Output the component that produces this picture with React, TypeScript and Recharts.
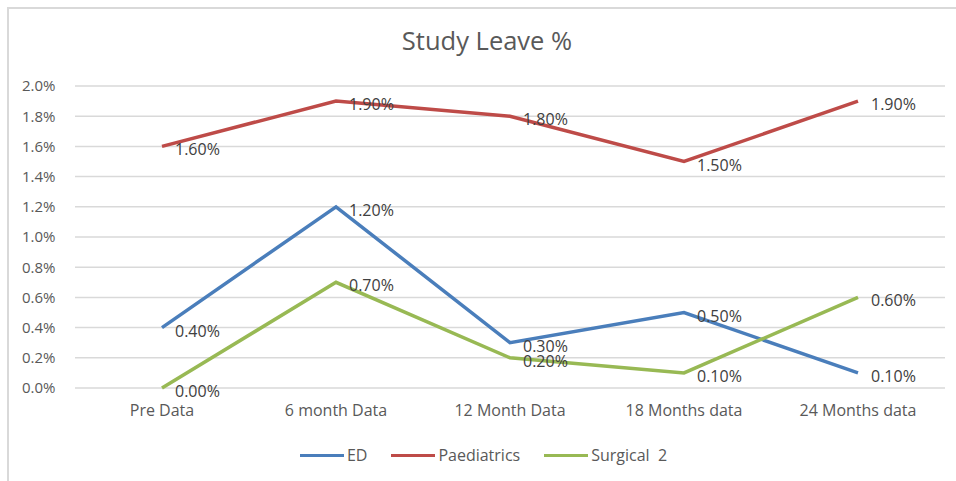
import React from 'react';
import { LineChart, Line, XAxis, YAxis, CartesianGrid, Legend, LabelList } from 'recharts';

const periods = ['Pre Data', '6 month Data', '12 Month Data', '18 Months data', '24 Months data'];
const ed = [0.4, 1.2, 0.3, 0.5, 0.1];
const paediatrics = [1.6, 1.9, 1.8, 1.5, 1.9];
const surgical2 = [0.0, 0.7, 0.2, 0.1, 0.6];
const yTicks = [0, 0.2, 0.4, 0.6, 0.8, 1.0, 1.2, 1.4, 1.6, 1.8, 2.0];

const seriesList = [
  { key: 'ed', name: 'ED', color: '#4A7EBB' },
  { key: 'paediatrics', name: 'Paediatrics', color: '#BE4B48' },
  { key: 'surgical2', name: 'Surgical  2', color: '#98B954' },
];

const FONT = '"Open Sans", Lato, sans-serif';

const rows = periods.map((p, i) => ({
  period: p,
  ed: ed[i],
  paediatrics: paediatrics[i],
  surgical2: surgical2[i],
}));

// Excel-style label: to the right of the point
const PointLabel = (props: any) => {
  const { x, y, value } = props;
  return (
    <text x={x + 13} y={y + 3} fill="#404040" fontSize={16} fontFamily={FONT} dominantBaseline="central">
      {Number(value).toFixed(2)}%
    </text>
  );
};

const LegendBox = () => (
  <div style={{ display: 'flex', justifyContent: 'center', gap: 24, paddingLeft: 22, fontFamily: FONT, fontSize: 16, color: '#595959' }}>
    {seriesList.map(s => (
      <div key={s.key} style={{ display: 'flex', alignItems: 'center', whiteSpace: 'pre' }}>
        <span style={{ display: 'inline-block', width: 44, height: 3, background: s.color, marginRight: 3 }} />
        {s.name}
      </div>
    ))}
  </div>
);

export default function App() {
  return (
    <div style={{ position: 'absolute', left: 0, top: 0, width: 956, height: 481, background: '#fff', overflow: 'hidden' }}>
      <div style={{ position: 'absolute', left: 7, top: 7, width: 960, height: 500, border: '2px solid #d9d9d9', boxSizing: 'border-box' }} />
      <div style={{ position: 'absolute', left: 0, top: 23, width: 974, textAlign: 'center', fontFamily: FONT, fontSize: 25.5, color: '#595959' }}>
        Study Leave %
      </div>
      <div style={{ position: 'absolute', left: 0, top: 0 }}>
        <LineChart width={956} height={481} data={rows} margin={{ top: 86, right: 11, left: 0, bottom: 15 }}>
          <CartesianGrid vertical={false} stroke="#d9d9d9" strokeWidth={1.5} />
          <XAxis
            dataKey="period"
            axisLine={false}
            tickLine={false}
            height={56}
            padding={{ left: 87, right: 87 }}
            tick={{ fill: '#595959', fontSize: 16, fontFamily: FONT }}
            tickMargin={11}
          />
          <YAxis
            width={75}
            domain={[0, 2]}
            ticks={yTicks}
            axisLine={false}
            tickLine={false}
            tickFormatter={(v: number) => v.toFixed(1) + '%'}
            tick={{ fill: '#595959', fontSize: 15, fontFamily: FONT, textAnchor: 'start', dx: -45 }}
          />
          <Legend verticalAlign="bottom" content={<LegendBox />} />
          {seriesList.map(s => (
            <Line
              key={s.key}
              type="linear"
              dataKey={s.key}
              name={s.name}
              stroke={s.color}
              strokeWidth={3.5}
              dot={false}
              isAnimationActive={false}
            >
              <LabelList dataKey={s.key} content={<PointLabel />} />
            </Line>
          ))}
        </LineChart>
      </div>
    </div>
  );
}
